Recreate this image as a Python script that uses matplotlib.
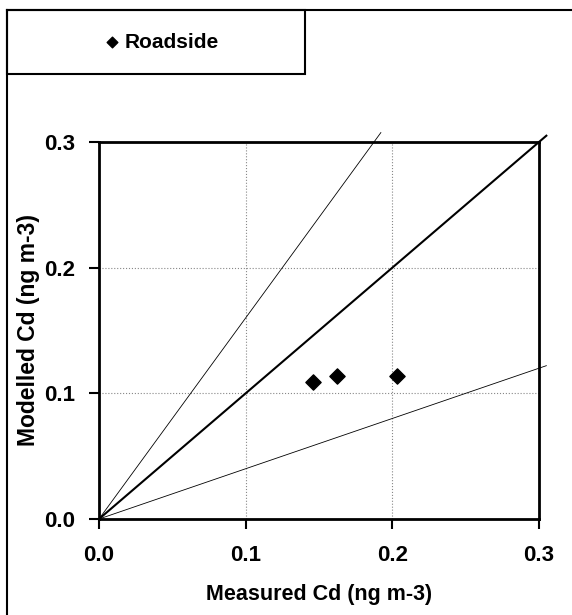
import matplotlib
matplotlib.use('Agg')
import matplotlib.pyplot as plt
from matplotlib.patches import Rectangle
from matplotlib.lines import Line2D
import numpy as np

plt.rcParams['font.family'] = ['Liberation Sans', 'DejaVu Sans']
plt.rcParams['font.weight'] = 'bold'

# roadside site values (ng m-3)
measured = [0.146, 0.162, 0.203]
modelled = [0.109, 0.114, 0.114]

# reference lines: 1:1 and +/-60 %
ref_slopes = [1.0, 1.6, 0.4]
ref_widths = [1.5, 0.6, 0.6]
ref_xmax = [0.305, 0.3075 / 1.6, 0.305]

ticks = [0.0, 0.1, 0.2, 0.3]
tick_labels = ['0.0', '0.1', '0.2', '0.3']

W, H = 572, 615
fig = plt.figure(figsize=(W / 100, H / 100), dpi=100)
ax = fig.add_axes([99 / W, (H - 519) / H, 440 / W, 377 / H])

for s, lw, xm in zip(ref_slopes, ref_widths, ref_xmax):
    xs = np.array([0, xm])
    ax.plot(xs, s * xs, color='black', lw=lw, clip_on=False, zorder=3)

ax.scatter(measured, modelled, marker='D', s=60, color='black', zorder=4,
           label='Roadside')

ax.set_xlim(0, 0.3)
ax.set_ylim(0, 0.3)
ax.set_xticks(ticks)
ax.set_yticks(ticks)
ax.set_xticklabels(tick_labels)
ax.set_yticklabels(tick_labels)
ax.tick_params(labelsize=16, width=1.5, length=7, direction='out')
ax.tick_params(axis='x', pad=12)
ax.tick_params(axis='y', pad=10)
ax.grid(True, color='#888888', linestyle=':', linewidth=0.8)
for sp in ax.spines.values():
    sp.set_linewidth(2)

ax.set_xlabel('Measured Cd (ng m-3)', fontsize=15.5, fontweight='bold', labelpad=13)
ax.set_ylabel('Modelled Cd (ng m-3)', fontsize=16.5, fontweight='bold', labelpad=3)

# outer frame (cut off at right and bottom)
fig.add_artist(Line2D([7 / W, 1.0], [1 - 10 / H, 1 - 10 / H], color='black', lw=1.5))
fig.add_artist(Line2D([7 / W, 7 / W], [0, 1 - 10 / H], color='black', lw=1.5))

# legend box
fig.add_artist(Rectangle((7 / W, 1 - 74 / H), 298 / W, 64 / H, fill=False,
                         edgecolor='black', lw=1.5, transform=fig.transFigure))
fig.legend(loc='center', bbox_to_anchor=(160 / W, 1 - 42 / H), frameon=False,
           prop={'size': 15, 'weight': 'bold'}, handletextpad=0.1,
           handlelength=1.0, markerscale=0.7)

plt.savefig('out.png', dpi=100)
plt.close()
